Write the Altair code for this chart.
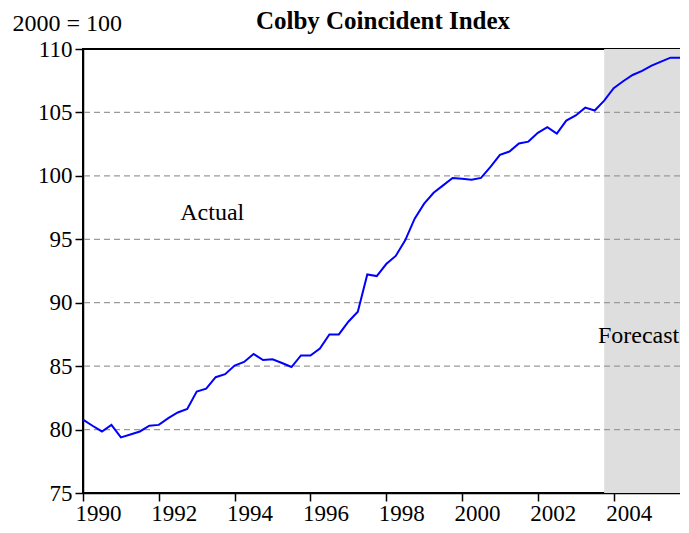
import altair as alt
import pandas as pd

# Quarterly observations, 1990Q1 .. 2005Q4
start_year = 1990
index_values = [
    80.79, 80.30, 79.85, 80.37, 79.38, 79.61, 79.85, 80.30,
    80.37, 80.90, 81.35, 81.62, 83.00, 83.23, 84.13, 84.37,
    85.05, 85.33, 85.96, 85.48, 85.54, 85.25, 84.93, 85.84,
    85.84, 86.38, 87.50, 87.50, 88.50, 89.29, 92.23, 92.10,
    93.05, 93.69, 94.92, 96.63, 97.81, 98.67, 99.25, 99.83,
    99.77, 99.70, 99.84, 100.70, 101.66, 101.92, 102.55, 102.70,
    103.39, 103.84, 103.33, 104.36, 104.76, 105.38, 105.15, 105.93,
    106.91, 107.46, 107.95, 108.27, 108.69, 109.00, 109.32, 109.32,
]
forecast_start = 2003.75
forecast_end = 2005.75
grid_values = [80, 85, 90, 95, 100, 105]
year_ticks = list(range(1990, 2006))
y_ticks = [75, 80, 85, 90, 95, 100, 105, 110]
labels_text = ["Actual", "Forecast"]
labels_x = [1993.41, 2005.73]
labels_y = [96.55, 86.8]
chart_title = "Colby Coincident Index"
base_note = "2000 = 100"

FONT = "Liberation Serif"

df = pd.DataFrame({
    "t": [start_year + i / 4 for i in range(len(index_values))],
    "v": index_values,
})
shade = pd.DataFrame({"a": [forecast_start], "b": [forecast_end], "lo": [75], "hi": [110]})
grid = pd.DataFrame({"g": grid_values})
lab = pd.DataFrame({"txt": labels_text, "x": labels_x, "y": labels_y})
ttl = pd.DataFrame({"txt": [chart_title]})

xscale = alt.Scale(domain=[1990, 2005.75], nice=False, zero=False)
yscale = alt.Scale(domain=[75, 110], nice=False, zero=False)

xaxis = alt.Axis(
    values=year_ticks,
    labelExpr="datum.value % 2 == 0 ? format(datum.value, 'd') : ''",
    title=None, grid=False, tickSize=8, tickColor="black", domainColor="black",
    domainWidth=1.5, tickWidth=1.5, labelFont=FONT, labelFontSize=23, labelColor="black",
    labelOffset=15, labelPadding=1, labelFlush=False, labelOverlap=False,
)
yaxis = alt.Axis(
    values=y_ticks, format="d", grid=False, tickSize=8, tickColor="black",
    domainColor="black", domainWidth=1.5, tickWidth=1.5,
    labelFont=FONT, labelFontSize=23, labelColor="black", labelPadding=3,
    title=base_note, titleAngle=0, titleAlign="left", titleBaseline="alphabetic",
    titleX=-71, titleY=-19, titleFont=FONT, titleFontSize=24, titleFontWeight="normal",
    titleColor="black",
)

shade_layer = alt.Chart(shade).mark_rect(color="#DEDEDE").encode(
    x=alt.X("a:Q", scale=xscale, axis=xaxis),
    x2="b:Q",
    y=alt.Y("lo:Q", scale=yscale, axis=yaxis),
    y2="hi:Q",
)

grid_layer = alt.Chart(grid).mark_rule(color="#9a9a9a", strokeDash=[6, 4], strokeWidth=1.2).encode(
    y=alt.Y("g:Q", scale=yscale),
)

line_layer = alt.Chart(df).mark_line(color="#0000FF", strokeWidth=2).encode(
    x=alt.X("t:Q", scale=xscale),
    y=alt.Y("v:Q", scale=yscale),
)

actual_text = alt.Chart(lab[lab.txt == "Actual"]).mark_text(
    font=FONT, fontSize=24, color="black", baseline="alphabetic", align="center").encode(
    x=alt.X("x:Q", scale=xscale), y=alt.Y("y:Q", scale=yscale), text="txt:N")
forecast_text = alt.Chart(lab[lab.txt == "Forecast"]).mark_text(
    font=FONT, fontSize=24, color="black", baseline="alphabetic", align="right").encode(
    x=alt.X("x:Q", scale=xscale), y=alt.Y("y:Q", scale=yscale), text="txt:N")

title_text = alt.Chart(ttl).mark_text(
    font=FONT, fontSize=25, fontWeight="bold", color="black", baseline="alphabetic",
    align="center").encode(
    x=alt.value(300), y=alt.value(-20), text="txt:N")

chart = alt.layer(shade_layer, grid_layer, line_layer, actual_text, forecast_text, title_text).properties(
    width=597, height=444,
    background="white",
    autosize=alt.AutoSizeParams(type="none"),
    padding={"left": 75, "top": 41, "right": 0, "bottom": 32},
).configure_view(stroke="black", strokeWidth=2)

chart.save("out.html", embed_options={"renderer": "svg", "actions": False})
